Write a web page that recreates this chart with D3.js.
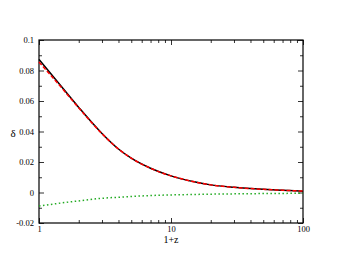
<!DOCTYPE html>
<html>
<head>
<meta charset="utf-8">
<script src="https://cdn.jsdelivr.net/npm/d3@7"></script>
<style>
  body { margin: 0; background: #fff; }
  text { font-family: "Liberation Serif", "DejaVu Serif", serif; }
</style>
</head>
<body>
<div class="chart"></div>
<script>
// 1+z sample points and curve values
var onePlusZ = [1, 1.5, 2, 3, 4, 5, 7, 10, 15, 20, 30, 50, 70, 100];
var deltaFull = [0.0873, 0.0688, 0.0558, 0.0387, 0.0285, 0.0225, 0.0159, 0.0109, 0.0070, 0.0050, 0.0034, 0.0021, 0.0015, 0.0009];
var deltaApprox = [0.0855, 0.0682, 0.0555, 0.0386, 0.0285, 0.0225, 0.0159, 0.0109, 0.0070, 0.0050, 0.0034, 0.0021, 0.0015, 0.0009];
var deltaDiff = [-0.0089, -0.0068, -0.0055, -0.0038, -0.0031, -0.0026, -0.0020, -0.0016, -0.0013, -0.0011, -0.0009, -0.0007, -0.0006, -0.0005];

var yTicks = [-0.02, 0, 0.02, 0.04, 0.06, 0.08, 0.1];
var yTickLabels = ["-0.02", "0", "0.02", "0.04", "0.06", "0.08", "0.1"];
var xTicks = [1, 10, 100];

var svgWidth = 341;
var svgHeight = 264;

var margin = { top: 40, right: 38, bottom: 41, left: 39 };
var width = svgWidth - margin.left - margin.right;
var height = svgHeight - margin.top - margin.bottom;

var svg = d3.select(".chart")
  .append("svg")
  .attr("width", svgWidth)
  .attr("height", svgHeight);

var chartGroup = svg.append("g")
  .attr("transform", `translate(${margin.left}, ${margin.top})`);

var xScale = d3.scaleLog().domain([1, 100]).range([0, width]);
var yScale = d3.scaleLinear().domain([-0.02, 0.1]).range([height, 0]);

// minor ticks
var xMinor = [];
[1, 10].forEach(function (d) {
  for (var k = 2; k <= 9; k++) xMinor.push(d * k);
});
var yMinor = d3.range(-0.01, 0.1, 0.02);

function tickAxis(axisFn, scale, vals, size) {
  return axisFn(scale).tickValues(vals).tickSize(size).tickFormat("");
}

// bottom & top
chartGroup.append("g").attr("transform", `translate(0, ${height})`)
  .call(d3.axisBottom(xScale).tickValues(xTicks).tickSize(-5).tickPadding(3).tickFormat(d3.format("d")))
  .call(g => g.select(".domain").remove());
chartGroup.append("g").attr("transform", `translate(0, ${height})`)
  .call(tickAxis(d3.axisBottom, xScale, xMinor, -3))
  .call(g => g.select(".domain").remove());
chartGroup.append("g")
  .call(tickAxis(d3.axisTop, xScale, xTicks, -5))
  .call(g => g.select(".domain").remove());
chartGroup.append("g")
  .call(tickAxis(d3.axisTop, xScale, xMinor, -3))
  .call(g => g.select(".domain").remove());

// left & right
chartGroup.append("g")
  .call(d3.axisLeft(yScale).tickValues(yTicks).tickSize(-5).tickPadding(5)
    .tickFormat((d, i) => yTickLabels[i]))
  .call(g => g.select(".domain").remove());
chartGroup.append("g")
  .call(tickAxis(d3.axisLeft, yScale, yMinor, -3))
  .call(g => g.select(".domain").remove());
chartGroup.append("g").attr("transform", `translate(${width}, 0)`)
  .call(tickAxis(d3.axisRight, yScale, yTicks, -5))
  .call(g => g.select(".domain").remove());
chartGroup.append("g").attr("transform", `translate(${width}, 0)`)
  .call(tickAxis(d3.axisRight, yScale, yMinor, -3))
  .call(g => g.select(".domain").remove());

chartGroup.selectAll(".tick line").attr("stroke", "#333");
chartGroup.selectAll(".tick text")
  .style("font-size", "8.5px")
  .style("font-family", "Liberation Serif, serif")
  .attr("fill", "#000");

// frame
chartGroup.append("rect")
  .attr("x", 0).attr("y", 0)
  .attr("width", width).attr("height", height)
  .attr("fill", "none")
  .attr("stroke", "#000")
  .attr("stroke-width", 1.2);

var line = d3.line()
  .x(d => xScale(d[0]))
  .y(d => yScale(d[1]))
  .curve(d3.curveMonotoneX);

chartGroup.append("path")
  .datum(d3.zip(onePlusZ, deltaFull))
  .attr("d", line)
  .attr("fill", "none")
  .attr("stroke", "#000")
  .attr("stroke-width", 1.5);

chartGroup.append("path")
  .datum(d3.zip(onePlusZ, deltaApprox))
  .attr("d", line)
  .attr("fill", "none")
  .attr("stroke", "#ff0000")
  .attr("stroke-width", 1.5)
  .attr("stroke-dasharray", "4,2");

chartGroup.append("path")
  .datum(d3.zip(onePlusZ, deltaDiff))
  .attr("d", line)
  .attr("fill", "none")
  .attr("stroke", "#22aa22")
  .attr("stroke-width", 1.5)
  .attr("stroke-dasharray", "1.5,2.5");

// axis labels
svg.append("text")
  .attr("x", margin.left + width / 2)
  .attr("y", 243)
  .attr("text-anchor", "middle")
  .style("font-size", "10px")
  .text("1+z");

svg.append("text")
  .attr("x", 13)
  .attr("y", 137)
  .attr("text-anchor", "middle")
  .style("font-size", "11px")
  .text("δ");
</script>
</body>
</html>
